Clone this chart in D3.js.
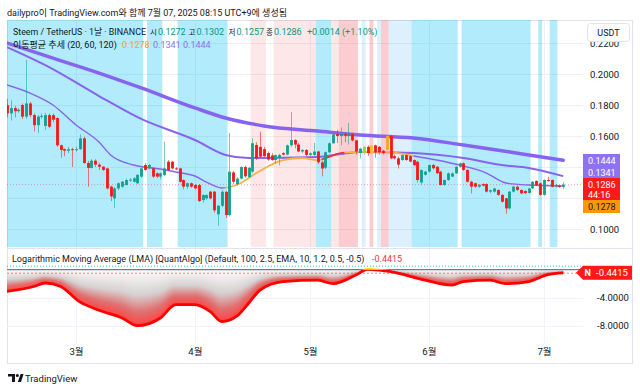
<!DOCTYPE html>
<html>
<head>
<meta charset="utf-8">
<script src="https://cdn.jsdelivr.net/npm/d3@7"></script>
<style>
  body { margin: 0; background: #fff; }
  svg { display: block; font-family: Roboto, 'Noto Sans CJK KR', sans-serif; }
</style>
</head>
<body>
<svg id="chart" width="640" height="390"></svg>
<script>
// Daily candles STEEM/USDT, first candle on firstDay, one per day
const firstDay = '2025-02-11';
const opens = [
  .1800,.1746,.1780,.1760,.1800,.1725,.1810,.1735,.1670,.1725,
  .1665,.1735,.1735,.1716,.1540,.1515,.1505,.1515,.1510,.1515,
  .1585,.1426,.1394,.1441,.1415,.1402,.1391,.1273,.1198,.1262,
  .1273,.1284,.1313,.1305,.1295,.1338,.1413,.1392,.1391,.1359,
  .1338,.1348,.1434,.1434,.1391,.1391,.1316,.1273,.1295,.1284,
  .1284,.1187,.1198,.1241,.1241,.1095,.1150,.1240,.1090,.1365,
  .1290,.1325,.1400,.1335,.1370,.1542,.1530,.1515,.1490,.1475,
  .1445,.1460,.1490,.1480,.1540,.1574,.1545,.1500,.1510,.1478,
  .1478,.1500,.1430,.1395,.1495,.1553,.1612,.1600,.1612,.1602,
  .1613,.1572,.1490,.1490,.1530,.1490,.1540,.1530,.1505,.1510,
  .1600,.1470,.1456,.1445,.1477,.1470,.1445,.1434,.1300,.1350,
  .1370,.1413,.1402,.1370,.1284,.1316,.1338,.1359,.1402,.1424,
  .1381,.1305,.1295,.1273,.1290,.1290,.1241,.1241,.1252,.1220,
  .1198,.1133,.1241,.1273,.1252,.1245,.1232,.1262,.1310,.1295,
  .1220,.1316,.1316,.1273,.1278,.1272
];
const highs = [
  .1840,.1830,.1795,.1780,.1810,.2090,.1820,.1745,.1735,.1745,
  .1750,.1745,.1745,.1720,.1545,.1520,.1530,.1525,.1530,.1610,
  .1595,.1440,.1450,.1450,.1425,.1405,.1395,.1280,.1270,.1300,
  .1310,.1325,.1330,.1335,.1355,.1395,.1425,.1420,.1400,.1365,
  .1365,.1563,.1445,.1440,.1400,.1395,.1320,.1300,.1300,.1290,
  .1290,.1225,.1225,.1245,.1245,.1155,.1250,.1245,.1620,.1375,
  .1335,.1405,.1410,.1400,.1585,.1560,.1628,.1530,.1500,.1490,
  .1480,.1485,.1495,.1545,.1755,.1580,.1555,.1515,.1515,.1495,
  .1555,.1505,.1440,.1500,.1560,.1625,.1640,.1655,.1625,.1684,
  .1620,.1575,.1525,.1535,.1540,.1545,.1545,.1535,.1510,.1610,
  .1605,.1480,.1465,.1480,.1480,.1475,.1450,.1440,.1385,.1375,
  .1415,.1420,.1405,.1375,.1320,.1365,.1365,.1405,.1430,.1430,
  .1385,.1310,.1300,.1290,.1295,.1295,.1255,.1265,.1255,.1225,
  .1200,.1245,.1280,.1280,.1255,.1250,.1265,.1310,.1315,.1300,
  .1320,.1338,.1320,.1290,.1285,.1302
];
const lows = [
  .1720,.1700,.1720,.1750,.1710,.1710,.1720,.1630,.1620,.1710,
  .1640,.1650,.1690,.1530,.1460,.1470,.1490,.1400,.1500,.1510,
  .1420,.1273,.1390,.1400,.1380,.1375,.1255,.1180,.1136,.1250,
  .1265,.1280,.1305,.1300,.1290,.1330,.1375,.1385,.1330,.1330,
  .1320,.1340,.1375,.1385,.1380,.1300,.1255,.1260,.1265,.1255,
  .1175,.1170,.1185,.1190,.1105,.1020,.1140,.1070,.1080,.1290,
  .1280,.1320,.1330,.1330,.1360,.1445,.1460,.1465,.1440,.1440,
  .1420,.1410,.1475,.1475,.1530,.1520,.1495,.1490,.1470,.1470,
  .1470,.1420,.1340,.1385,.1490,.1550,.1555,.1540,.1560,.1545,
  .1565,.1480,.1455,.1480,.1470,.1485,.1460,.1480,.1480,.1505,
  .1450,.1450,.1390,.1440,.1440,.1430,.1405,.1300,.1285,.1345,
  .1365,.1385,.1355,.1280,.1280,.1310,.1335,.1355,.1395,.1375,
  .1300,.1230,.1265,.1265,.1275,.1235,.1230,.1235,.1215,.1170,
  .1100,.1125,.1235,.1245,.1225,.1225,.1228,.1258,.1280,.1215,
  .1215,.1305,.1268,.1268,.1265,.1257
];
const closes = [
  .1746,.1780,.1760,.1770,.1725,.1810,.1735,.1670,.1725,.1730,
  .1735,.1660,.1705,.1540,.1510,.1505,.1515,.1510,.1515,.1585,
  .1426,.1394,.1441,.1415,.1402,.1381,.1262,.1210,.1262,.1295,
  .1305,.1316,.1318,.1327,.1349,.1391,.1381,.1413,.1338,.1338,
  .1359,.1391,.1381,.1391,.1385,.1305,.1273,.1295,.1273,.1262,
  .1180,.1219,.1219,.1198,.1120,.1150,.1240,.1090,.1370,.1305,
  .1325,.1400,.1340,.1395,.1553,.1456,.1467,.1470,.1448,.1445,
  .1477,.1478,.1480,.1540,.1574,.1545,.1500,.1510,.1478,.1488,
  .1500,.1430,.1390,.1495,.1553,.1610,.1600,.1612,.1602,.1613,
  .1572,.1500,.1518,.1530,.1490,.1540,.1495,.1495,.1490,.1600,
  .1456,.1456,.1415,.1477,.1445,.1435,.1413,.1316,.1380,.1370,
  .1413,.1392,.1360,.1284,.1316,.1359,.1359,.1402,.1424,.1381,
  .1305,.1273,.1273,.1285,.1280,.1241,.1250,.1262,.1220,.1176,
  .1133,.1241,.1273,.1252,.1230,.1232,.1262,.1305,.1284,.1220,
  .1316,.1310,.1273,.1285,.1272,.1286
];

// bars recoloured by the indicator
const barColorDates = ['2025-05-15', '2025-05-17', '2025-05-21'];
const barColorValues = ['#9bd23c', '#f2c51c', '#f5a623'];

// moving averages (20, 60, 120)
const ma120Dates = ['2025-02-11','2025-02-22','2025-03-07','2025-03-18','2025-04-01','2025-04-09','2025-04-19','2025-05-03','2025-05-14','2025-05-28','2025-06-10','2025-06-27','2025-07-06'];
const ma120Values = [0.2200,0.2110,0.2006,0.1910,0.1781,0.1716,0.1665,0.1632,0.1607,0.1587,0.1542,0.1478,0.1444];
const ma60Dates = ['2025-02-11','2025-02-22','2025-03-07','2025-03-18','2025-04-01','2025-04-09','2025-04-15','2025-05-03','2025-05-09','2025-05-14','2025-05-28','2025-06-10','2025-06-20','2025-06-27','2025-07-06'];
const ma60Values = [0.2174,0.2045,0.1858,0.1710,0.1574,0.1478,0.1458,0.1465,0.1484,0.1497,0.1490,0.1458,0.1413,0.1394,0.1341];
const ma20Dates = ['2025-02-11','2025-02-17','2025-02-23','2025-03-01','2025-03-07','2025-03-10','2025-03-16','2025-03-23','2025-03-27','2025-04-01','2025-04-04','2025-04-08','2025-04-13','2025-04-17','2025-04-24','2025-04-29','2025-05-03','2025-05-09','2025-05-14','2025-05-21','2025-05-28','2025-06-03','2025-06-10','2025-06-16','2025-06-21','2025-06-27','2025-07-06'];
const ma20Values = [0.1929,0.1877,0.1800,0.1671,0.1561,0.1478,0.1413,0.1387,0.1368,0.1342,0.1303,0.1265,0.1297,0.1361,0.1445,0.1458,0.1445,0.1490,0.1497,0.1497,0.1471,0.1445,0.1406,0.1361,0.1297,0.1284,0.1278];
const ma20SegStarts = ['2025-02-01','2025-04-09','2025-05-04','2025-05-10','2025-05-28'];
const ma20SegEnds   = ['2025-04-09','2025-05-04','2025-05-10','2025-05-28','2025-07-10'];
const ma20SegColors = ['#8764f0','#f7b04a','#ff2a2a','#f7b04a','#8764f0'];

// trend background colours
const bandStarts = ['2025-02-11','2025-03-20','2025-03-28','2025-04-16','2025-04-22','2025-05-03','2025-05-07','2025-05-09','2025-05-15','2025-05-17','2025-05-19','2025-05-20','2025-05-22','2025-05-28','2025-06-10','2025-06-30','2025-07-03'];
const bandEnds   = ['2025-03-18','2025-03-23','2025-04-09','2025-04-19','2025-05-02','2025-05-06','2025-05-08','2025-05-13','2025-05-15','2025-05-17','2025-05-19','2025-05-21','2025-05-27','2025-06-08','2025-06-27','2025-06-30','2025-07-04'];
const bandKinds  = ['bull','bull','bull','bear','bear','bull','bear','bear2','pale','bear2','pale','bear2','pale','bull','bull','bull','bull'];

// LMA oscillator
const oscDates = ['2025-02-11','2025-02-18','2025-02-21','2025-02-25','2025-03-02','2025-03-07','2025-03-13','2025-03-17','2025-03-23','2025-03-27','2025-04-01','2025-04-05','2025-04-08','2025-04-12','2025-04-15','2025-04-18','2025-04-24','2025-05-03','2025-05-07','2025-05-13','2025-05-16','2025-05-19','2025-05-22','2025-05-31','2025-06-07','2025-06-10','2025-06-17','2025-06-21','2025-06-27','2025-07-02','2025-07-06'];
const oscValues = [-3.1,-2.4,-1.9,-2.4,-4.6,-5.8,-6.9,-8.0,-6.9,-5.0,-5.0,-6.0,-7.4,-6.6,-4.8,-2.9,-1.7,-1.5,-2.0,-0.76,0.05,-0.06,-0.28,-1.5,-2.2,-1.7,-1.5,-2.0,-1.7,-0.7,-0.4415];

const priceTicks = [0.10, 0.12, 0.14, 0.16, 0.18, 0.20, 0.22];
const oscTicks = [-4, -8];
const monthTicks = ['2025-03-01','2025-04-01','2025-05-01','2025-06-01','2025-07-01'];

const parse = d3.utcParse('%Y-%m-%d');
const day0 = parse(firstDay);
const candles = closes.map((c, i) => ({
  date: d3.utcDay.offset(day0, i), o: opens[i], h: highs[i], l: lows[i], c
}));

const svg = d3.select('#chart');
const plotL = 7, plotR = 583, mainTop = 20, mainBot = 247, oscTop = 249, oscBot = 343;
const FS = 9;

const x = d3.scaleUtc().domain([parse('2025-03-01'), parse('2025-07-01')]).range([76, 544]);
const y = d3.scaleLinear().domain([0.1, 0.2]).range([229, 74]);
const yOsc = d3.scaleLinear().domain([0, -8]).range([269.7, 325.7]);
const halfDay = (x(parse('2025-03-02')) - x(parse('2025-03-01'))) / 2;

const defs = svg.append('defs');
defs.append('clipPath').attr('id', 'clipMain').append('rect')
  .attr('x', plotL).attr('y', mainTop).attr('width', plotR - plotL).attr('height', mainBot - mainTop);
defs.append('clipPath').attr('id', 'clipOsc').append('rect')
  .attr('x', plotL).attr('y', oscTop).attr('width', plotR - plotL).attr('height', oscBot - oscTop);
defs.append('clipPath').attr('id', 'clipBelow').append('rect')
  .attr('x', plotL).attr('y', yOsc(0)).attr('width', plotR - plotL).attr('height', oscBot - yOsc(0));
defs.append('clipPath').attr('id', 'clipAbove').append('rect')
  .attr('x', plotL).attr('y', oscTop).attr('width', plotR - plotL).attr('height', yOsc(0) - oscTop);
const grad = defs.append('linearGradient').attr('id', 'oscGrad')
  .attr('x1', 0).attr('y1', 0).attr('x2', 0).attr('y2', 1);
[[0, '#fbfbfb'], [0.45, '#cbc4c4'], [0.75, '#d64a4a'], [1, '#ff0d0d']].forEach(s =>
  grad.append('stop').attr('offset', s[0]).attr('stop-color', s[1]));

// header
svg.append('text').attr('x', 7).attr('y', 16).attr('font-size', FS).attr('fill', '#131722')
  .text('dailypro이 TradingView.com와 함께 7월 07, 2025 08:15 UTC+9에 생성됨');

// frame
svg.append('rect').attr('x', 7.5).attr('y', 20.5).attr('width', 625).attr('height', 343)
  .attr('fill', 'none').attr('stroke', '#e0e3eb');
svg.append('line').attr('x1', 7).attr('x2', 633).attr('y1', 248.5).attr('y2', 248.5).attr('stroke', '#e0e3eb');

// ---- main pane ----
const main = svg.append('g').attr('clip-path', 'url(#clipMain)');

main.selectAll('.hgrid').data(priceTicks).enter().append('line')
  .attr('x1', plotL).attr('x2', plotR).attr('y1', d => Math.round(y(d)) + 0.5).attr('y2', d => Math.round(y(d)) + 0.5)
  .attr('stroke', '#eef0f4');
main.selectAll('.vgrid').data(monthTicks).enter().append('line')
  .attr('x1', d => Math.round(x(parse(d))) + 0.5).attr('x2', d => Math.round(x(parse(d))) + 0.5)
  .attr('y1', mainTop).attr('y2', mainBot).attr('stroke', '#eef0f4');

const bandFill = { bull: 'rgba(0,188,242,0.30)', bear: 'rgba(242,54,69,0.12)', bear2: 'rgba(242,54,69,0.25)', pale: 'rgba(33,150,243,0.15)' };
main.selectAll('.band').data(bandStarts).enter().append('rect')
  .attr('x', (d, i) => x(parse(d)) - halfDay)
  .attr('width', (d, i) => x(parse(bandEnds[i])) - x(parse(d)) + 2 * halfDay)
  .attr('y', mainTop).attr('height', mainBot - mainTop)
  .attr('fill', (d, i) => bandFill[bandKinds[i]]);

// last price line
main.append('line').attr('x1', plotL).attr('x2', plotR)
  .attr('y1', y(closes[closes.length - 1])).attr('y2', y(closes[closes.length - 1]))
  .attr('stroke', '#f23645').attr('stroke-opacity', 0.45).attr('stroke-dasharray', '1,2');

// moving averages
const maLine = d3.line().x(d => x(d.date)).y(d => y(d.v)).curve(d3.curveMonotoneX);
const toPts = (ds, vs) => ds.map((d, i) => ({ date: parse(d), v: vs[i] }));
main.append('path').attr('d', maLine(toPts(ma120Dates, ma120Values)))
  .attr('fill', 'none').attr('stroke', '#8764f0').attr('stroke-width', 3.5).attr('stroke-linecap', 'round');
main.append('path').attr('d', maLine(toPts(ma60Dates, ma60Values)))
  .attr('fill', 'none').attr('stroke', '#8764f0').attr('stroke-width', 2);
const ma20Path = maLine(toPts(ma20Dates, ma20Values));
ma20SegStarts.forEach((s, i) => {
  const id = 'ma20clip' + i;
  defs.append('clipPath').attr('id', id).append('rect')
    .attr('x', x(parse(s))).attr('width', x(parse(ma20SegEnds[i])) - x(parse(s)))
    .attr('y', 0).attr('height', 390);
  main.append('g').attr('clip-path', `url(#${id})`).append('path').attr('d', ma20Path)
    .attr('fill', 'none').attr('stroke', ma20SegColors[i])
    .attr('stroke-width', ma20SegColors[i] === '#8764f0' ? 1.4 : 1.8);
});

// candles
const upColor = '#0fa18c', downColor = '#ff1414';
const barColor = d => {
  const k = barColorDates.indexOf(d3.utcFormat('%Y-%m-%d')(d.date));
  if (k >= 0) return barColorValues[k];
  return d.c >= d.o ? upColor : downColor;
};
const cg = main.append('g');
cg.selectAll('.wick').data(candles).enter().append('line')
  .attr('x1', d => Math.round(x(d.date)) + 0.5).attr('x2', d => Math.round(x(d.date)) + 0.5)
  .attr('y1', d => y(d.h)).attr('y2', d => y(d.l))
  .attr('stroke', barColor).attr('stroke-opacity', 0.55);
cg.selectAll('.body').data(candles).enter().append('rect')
  .attr('x', d => Math.round(x(d.date)) + 0.5 - 1.4).attr('width', 2.8)
  .attr('y', d => y(Math.max(d.o, d.c)))
  .attr('height', d => Math.max(1, Math.abs(y(d.o) - y(d.c))))
  .attr('fill', barColor);

// legend (Hangul field names a touch smaller so they sit tight before their values)
const leg1 = [
  ['Steem / TetherUS · 1날 · BINANCE', 13, '#131722', FS],
  ['시', 150, '#131722', 7.5], ['0.1272', 158, '#089981', FS],
  ['고', 188.5, '#131722', 7.5], ['0.1302', 196.5, '#089981', FS],
  ['저', 228.5, '#131722', 7.5], ['0.1257', 236.5, '#089981', FS],
  ['종', 266, '#131722', 7.5], ['0.1286', 274, '#089981', FS],
  ['+0.0014 (+1.10%)', 307, '#089981', FS]
];
svg.selectAll('.leg1').data(leg1).enter().append('text')
  .attr('x', d => d[1]).attr('y', 34.5).attr('font-size', d => d[3]).attr('fill', d => d[2]).text(d => d[0])
  .filter((d, i) => i === 0).attr('textLength', 133).attr('lengthAdjust', 'spacingAndGlyphs');
const leg2 = [
  ['이동평균 추세 (20, 60, 120)', 13, '#131722'],
  ['0.1278', 122, '#f7a21b'], ['0.1341', 153, '#8f72f2'], ['0.1444', 183, '#8f72f2']
];
svg.selectAll('.leg2').data(leg2).enter().append('text')
  .attr('x', d => d[1]).attr('y', 47.5).attr('font-size', FS).attr('fill', d => d[2]).text(d => d[0]);

// price axis (ticks hidden behind the last-value labels are not drawn)
const labelTop = 154, labelBot = 213;
svg.selectAll('.ptick').data(priceTicks.filter(d => y(d) < labelTop - 4 || y(d) > labelBot + 4)).enter().append('text')
  .attr('x', 590).attr('y', d => y(d) + 3.5).attr('font-size', 9.5).attr('fill', '#131722')
  .text(d => d.toFixed(4));
svg.append('rect').attr('x', 587.5).attr('y', 23.5).attr('width', 42).attr('height', 18).attr('rx', 3)
  .attr('fill', '#fff').attr('stroke', '#e0e3eb');
svg.append('text').attr('x', 608.5).attr('y', 35.5).attr('text-anchor', 'middle')
  .attr('font-size', FS).attr('fill', '#131722').text('USDT');

// last value labels
svg.append('rect').attr('x', 583).attr('y', labelTop).attr('width', 37).attr('height', 24).attr('fill', '#8f72f2');
svg.append('rect').attr('x', 583).attr('y', 178).attr('width', 37).attr('height', 22).attr('fill', '#ff1a1a');
svg.append('rect').attr('x', 583).attr('y', 200).attr('width', 37).attr('height', labelBot - 200).attr('fill', '#ff9800');
const lastLabels = [
  ['0.1444', 163.5, '#fff'], ['0.1341', 175.5, '#fff'],
  ['0.1286', 188, '#fff'], ['44:16', 197.5, '#fff'], ['0.1278', 209.8, '#131722']
];
svg.selectAll('.lastlab').data(lastLabels).enter().append('text')
  .attr('x', 588).attr('y', d => d[1]).attr('font-size', 9).attr('fill', d => d[2]).text(d => d[0]);

// ---- oscillator pane ----
const og = svg.append('g').attr('clip-path', 'url(#clipOsc)');
og.selectAll('.vgrid').data(monthTicks).enter().append('line')
  .attr('x1', d => Math.round(x(parse(d))) + 0.5).attr('x2', d => Math.round(x(parse(d))) + 0.5)
  .attr('y1', oscTop).attr('y2', oscBot).attr('stroke', '#f0f3fa');
og.selectAll('.hgrid').data(oscTicks).enter().append('line')
  .attr('x1', plotL).attr('x2', plotR).attr('y1', d => Math.round(yOsc(d)) + 0.5).attr('y2', d => Math.round(yOsc(d)) + 0.5)
  .attr('stroke', '#f0f3fa');

const oscPts = toPts(oscDates, oscValues);
const oscLine = d3.line().x(d => x(d.date)).y(d => yOsc(d.v)).curve(d3.curveMonotoneX);
const probe = og.append('path').attr('d', oscLine(oscPts)).attr('fill', 'none').attr('stroke', 'none');
const pn = probe.node(), total = pn.getTotalLength();
const colY = new Map();
for (let l = 0; l <= total; l += 0.4) {
  const p = pn.getPointAtLength(l);
  colY.set(Math.round(p.x), p.y);
}
const y0 = yOsc(0);
const cols = Array.from(colY, ([cx, cy]) => ({ cx, cy })).filter(d => d.cy > y0 + 0.5);
og.append('g').selectAll('rect').data(cols).enter().append('rect')
  .attr('x', d => d.cx - 0.5).attr('width', 1.05)
  .attr('y', y0).attr('height', d => d.cy - y0)
  .attr('fill', 'url(#oscGrad)');

og.append('line').attr('x1', plotL).attr('x2', plotR).attr('y1', yOsc(0.5)).attr('y2', yOsc(0.5))
  .attr('stroke', '#26c6da').attr('stroke-dasharray', '1,2').attr('stroke-width', 1);
og.append('line').attr('x1', plotL).attr('x2', plotR).attr('y1', y0).attr('y2', y0)
  .attr('stroke', '#787b86').attr('stroke-width', 1.3);
og.append('line').attr('x1', plotL).attr('x2', plotR).attr('y1', yOsc(-0.5)).attr('y2', yOsc(-0.5))
  .attr('stroke', '#f23645').attr('stroke-opacity', 0.6).attr('stroke-dasharray', '2,2');

og.append('g').attr('clip-path', 'url(#clipBelow)').append('path').attr('d', oscLine(oscPts))
  .attr('fill', 'none').attr('stroke', '#ff0000').attr('stroke-width', 2.8);
og.append('g').attr('clip-path', 'url(#clipAbove)').append('path').attr('d', oscLine(oscPts))
  .attr('fill', 'none').attr('stroke', '#ffe100').attr('stroke-width', 2.8);

svg.append('text').attr('x', 12).attr('y', 261.5).attr('font-size', FS).attr('fill', '#131722')
  .text('Logarithmic Moving Average (LMA) [QuantAlgo] (Default, 100, 2.5, EMA, 10, 1.2, 0.5, -0.5)');
svg.append('text').attr('x', 372).attr('y', 261.5).attr('font-size', FS).attr('fill', '#f23645')
  .text(oscValues[oscValues.length - 1].toFixed(4));

svg.selectAll('.otick').data(oscTicks).enter().append('text')
  .attr('x', 597).attr('y', d => yOsc(d) + 3.5).attr('font-size', 9.5).attr('fill', '#131722')
  .text(d => d.toFixed(4));

const lastOsc = yOsc(oscValues[oscValues.length - 1]);
svg.append('path')
  .attr('d', `M576,${lastOsc} L583,${lastOsc - 7} L592,${lastOsc - 7} L592,${lastOsc + 7} L583,${lastOsc + 7} Z`)
  .attr('fill', '#ff1a1a');
svg.append('rect').attr('x', 592).attr('y', lastOsc - 7).attr('width', 40).attr('height', 14).attr('fill', '#ff1a1a');
svg.append('text').attr('x', 584.5).attr('y', lastOsc + 3.5).attr('font-size', 9).attr('font-weight', 'bold')
  .attr('fill', '#fff').text('N');
svg.append('text').attr('x', 596).attr('y', lastOsc + 3.5).attr('font-size', 9.5).attr('fill', '#fff')
  .text(oscValues[oscValues.length - 1].toFixed(4));

// time axis
const xAxis = d3.axisBottom(x).tickValues(monthTicks.map(parse))
  .tickFormat(d => (d.getUTCMonth() + 1) + '월').tickSize(0).tickPadding(0);
const ax = svg.append('g').attr('transform', 'translate(0,348)').call(xAxis);
ax.select('.domain').remove();
ax.selectAll('text').attr('font-size', 9.5).attr('fill', '#131722')
  .attr('font-family', "Roboto, 'Noto Sans CJK KR', sans-serif");

// TradingView logo
const logo = svg.append('g').attr('fill', '#131722');
logo.append('path').attr('d', 'M8,374 H15 V382 H12 V376.6 H8 Z');
logo.append('circle').attr('cx', 17.3).attr('cy', 375.6).attr('r', 1.5);
logo.append('path').attr('d', 'M17.8,382 L20.6,374 H23.6 L21,382 Z');
svg.append('text').attr('x', 25).attr('y', 381.5).attr('font-size', 9.5).attr('fill', '#131722').text('TradingView');
</script>
</body>
</html>
